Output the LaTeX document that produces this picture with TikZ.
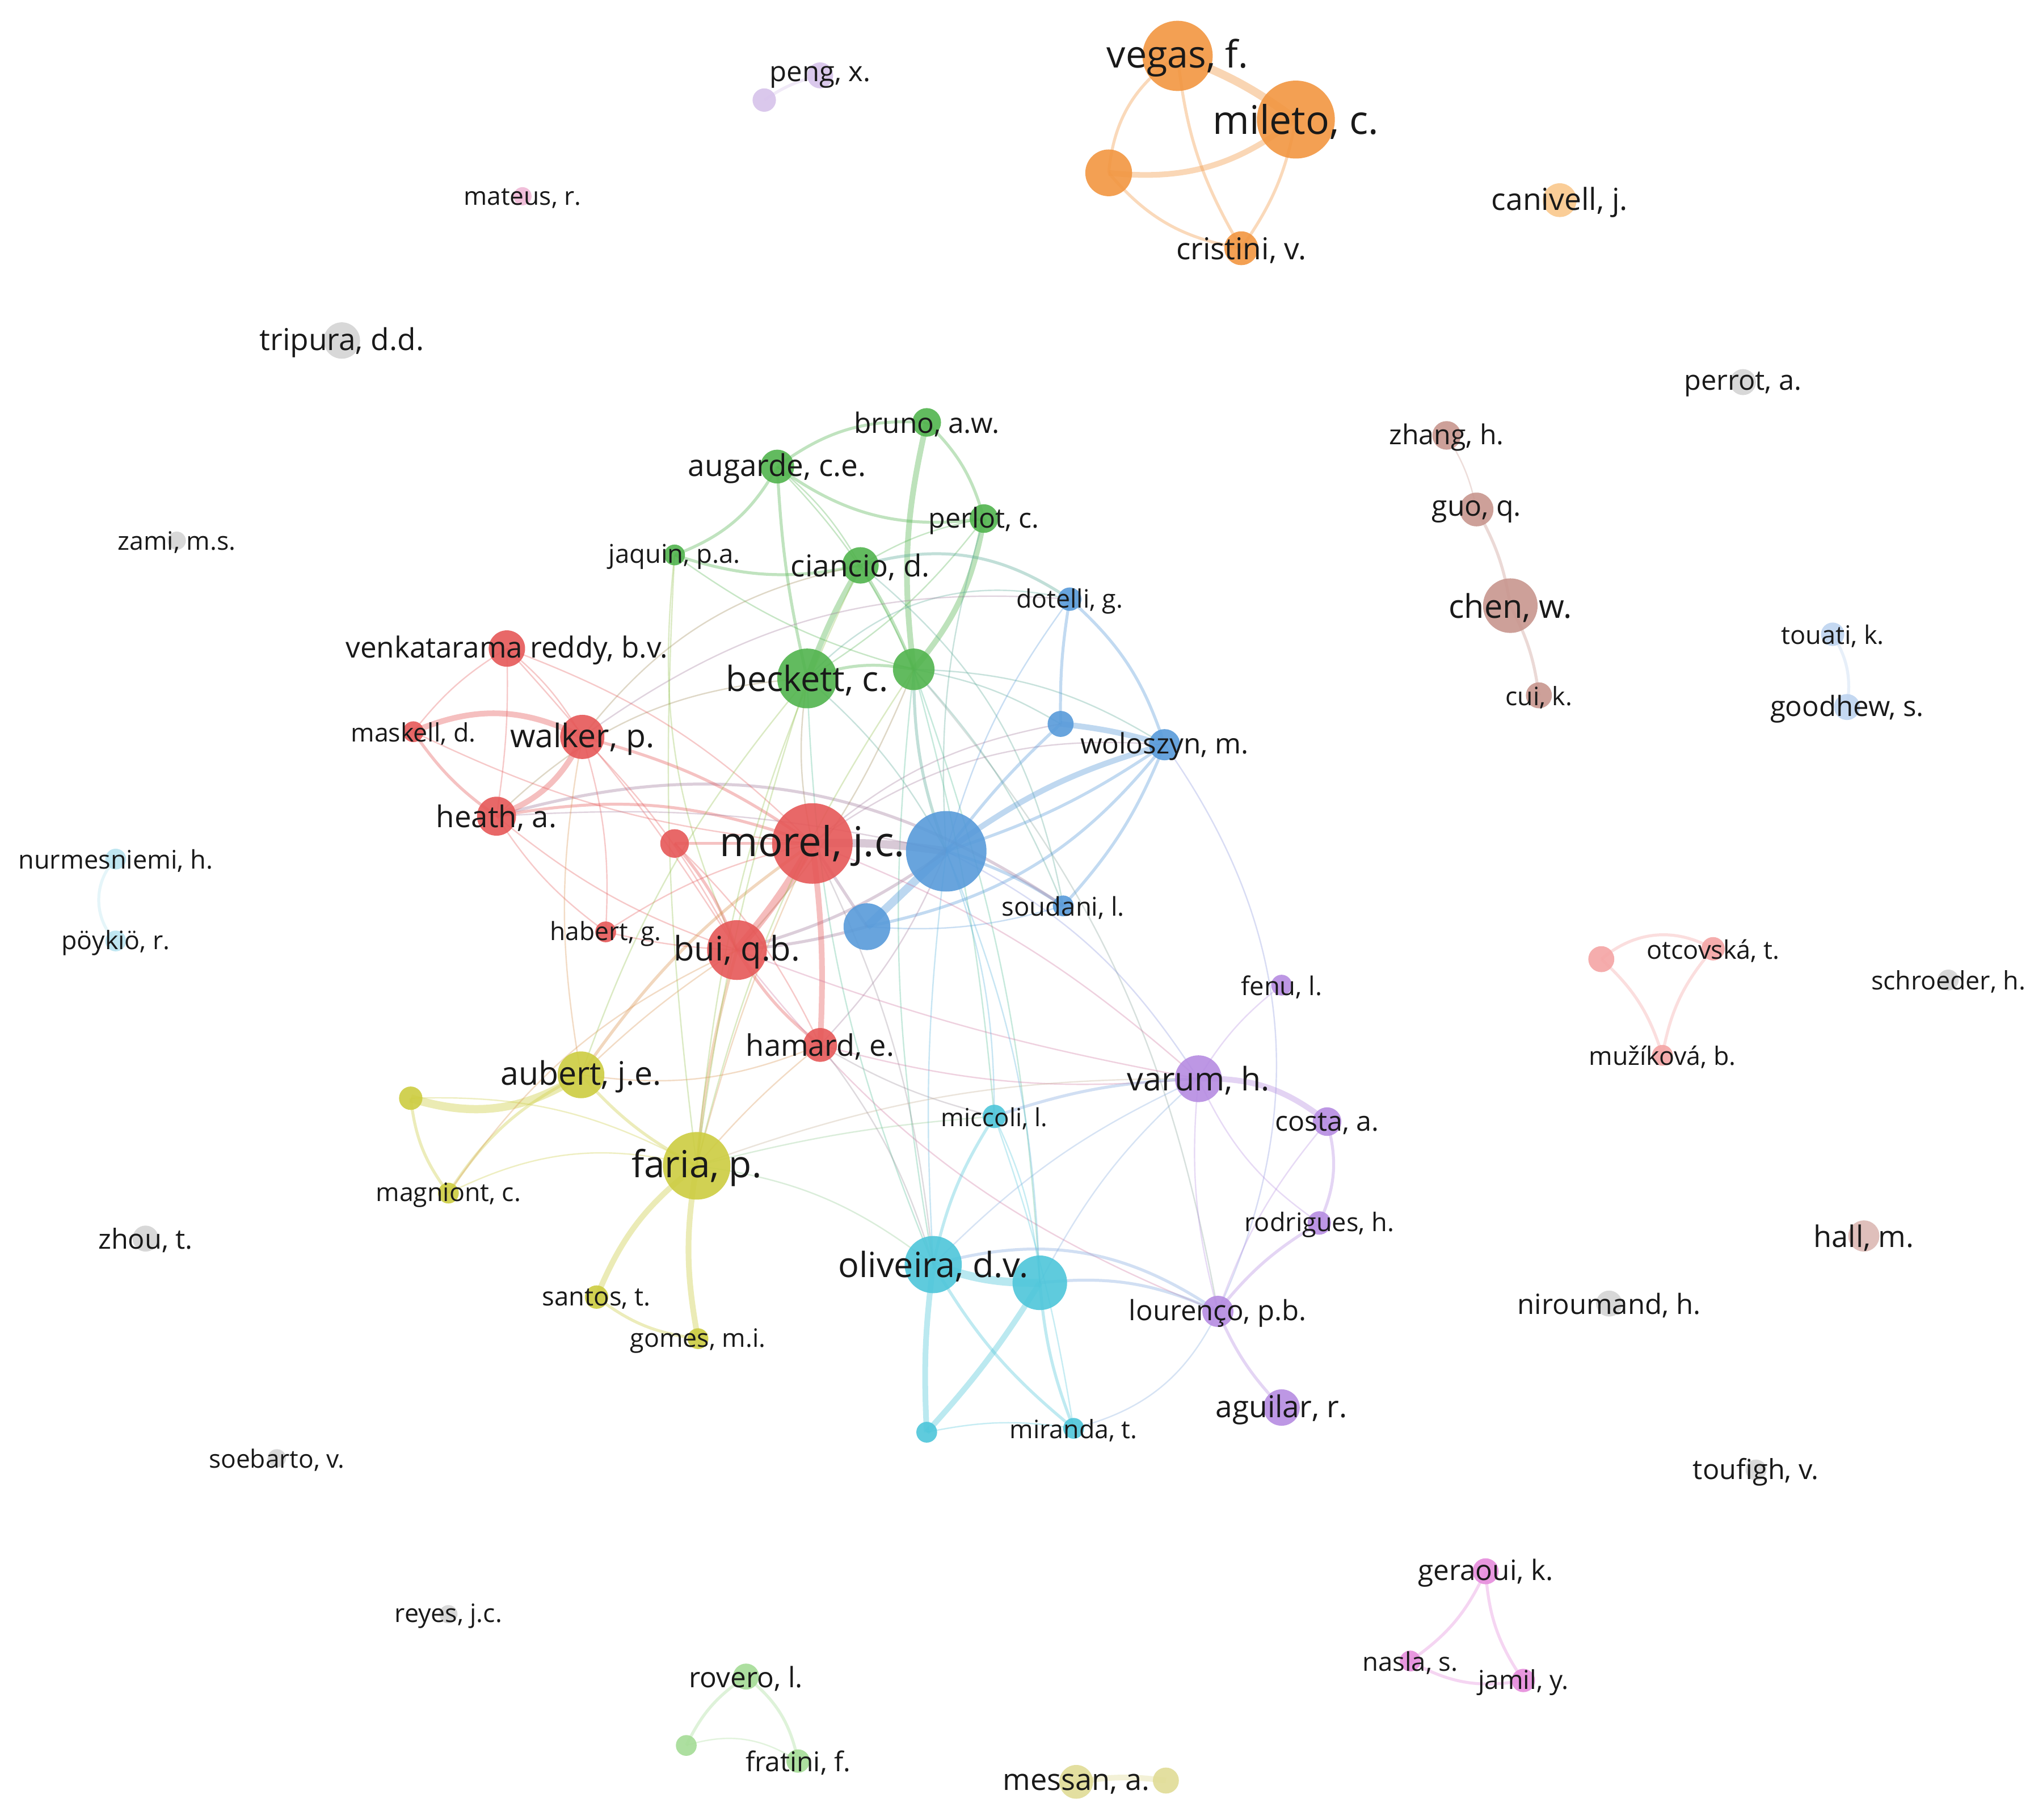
\documentclass[tikz,border=0pt]{standalone}
\usepackage{fontspec}
\setmainfont{Open Sans}
\definecolor{cR}{RGB}{230,88,88}
\definecolor{cG}{RGB}{82,180,78}
\definecolor{cB}{RGB}{88,155,218}
\definecolor{cY}{RGB}{205,205,65}
\definecolor{cP}{RGB}{182,140,226}
\definecolor{cC}{RGB}{78,198,218}
\definecolor{cO}{RGB}{242,150,65}
\definecolor{cOl}{RGB}{250,200,140}
\definecolor{cBr}{RGB}{200,150,142}
\definecolor{cGr}{RGB}{212,212,212}
\definecolor{cPl}{RGB}{215,195,235}
\definecolor{cPi}{RGB}{240,185,215}
\definecolor{cBl}{RGB}{190,212,240}
\definecolor{cCl}{RGB}{185,228,240}
\definecolor{cPk}{RGB}{245,165,165}
\definecolor{cHa}{RGB}{220,185,180}
\definecolor{cM}{RGB}{230,140,220}
\definecolor{cGl}{RGB}{165,220,150}
\definecolor{cYl}{RGB}{225,220,150}
\definecolor{txt}{RGB}{25,25,25}
\pgfdeclarelayer{bg}
\pgfdeclarelayer{edges}
\pgfdeclarelayer{labels}
\pgfsetlayers{bg,edges,main,labels}
\newcommand\lnk[4][]{\draw[#1] (#2.center) to[#4] (#3.center);}
\begin{document}
\begin{tikzpicture}[x=0.02cm,y=-0.02cm,
  nd/.style 2 args={circle, fill=#1, fill opacity=0.9, draw=none, inner sep=0pt, minimum size=#2*0.04cm},
  lab/.style={font=\fontsize{#1}{#1}\selectfont, text=txt, inner sep=0pt, yshift=-1.5*0.02cm},
  lk/.style={draw=#1, draw opacity=0.32, line width=0.6pt},
  w2/.style={line width=1.3pt, draw opacity=0.36},
  w3/.style={line width=2.5pt, draw opacity=0.38},
  w4/.style={line width=3.6pt, draw opacity=0.4}]
\useasboundingbox (0,0) rectangle (1568,1400);
\begin{pgfonlayer}{bg}
\fill[white] (0,0) rectangle (1568,1400);
\end{pgfonlayer}

% ---------- nodes ----------
\node[nd={cO}{27}] (vegas) at (906,43) {};
\node[nd={cO}{30}] (mileto) at (997,92) {};
\node[nd={cO}{18}] (orA) at (853,133) {};
\node[nd={cO}{13}] (cristini) at (955,191) {};
\node[nd={cOl}{13}] (canivell) at (1200,154) {};
\node[nd={cPl}{10}] (peng) at (631,58) {};
\node[nd={cPl}{9}] (pengB) at (588,77) {};
\node[nd={cPi}{7}] (mateus) at (402,151) {};
\node[nd={cGr}{14}] (tripura) at (263,262) {};
\node[nd={cGr}{7}] (zami) at (136,416) {};
\node[nd={cGr}{10}] (perrot) at (1341,294) {};
\node[nd={cBr}{11}] (zhang) at (1113,335) {};
\node[nd={cBr}{13}] (guo) at (1136,392) {};
\node[nd={cBr}{21}] (chen) at (1162,466) {};
\node[nd={cBr}{10}] (cui) at (1184,535) {};
\node[nd={cBl}{9}] (touati) at (1410,488) {};
\node[nd={cBl}{10}] (goodhew) at (1421,544) {};
\node[nd={cCl}{8}] (nurmes) at (89,661) {};
\node[nd={cCl}{8}] (poykio) at (89,724) {};
\node[nd={cG}{11}] (bruno) at (713,325) {};
\node[nd={cG}{13}] (augarde) at (598,359) {};
\node[nd={cG}{11}] (perlot) at (757,399) {};
\node[nd={cG}{8}] (jaquin) at (519,427) {};
\node[nd={cG}{14}] (ciancio) at (662,435) {};
\node[nd={cG}{23}] (beckett) at (621,522) {};
\node[nd={cG}{16}] (grA) at (703,515) {};
\node[nd={cB}{9}] (dotelli) at (823,461) {};
\node[nd={cB}{10}] (blA) at (816,557) {};
\node[nd={cB}{12}] (woloszyn) at (896,573) {};
\node[nd={cB}{31}] (blBig) at (728,655) {};
\node[nd={cB}{18}] (blC) at (667,713) {};
\node[nd={cB}{8}] (soudani) at (818,697) {};
\node[nd={cR}{14}] (venkat) at (390,499) {};
\node[nd={cR}{8}] (maskell) at (318,563) {};
\node[nd={cR}{17}] (walker) at (448,567) {};
\node[nd={cR}{15}] (heath) at (382,628) {};
\node[nd={cR}{11}] (rdA) at (519,649) {};
\node[nd={cR}{31}] (morel) at (625,649) {};
\node[nd={cR}{8}] (habert) at (466,717) {};
\node[nd={cR}{23}] (bui) at (567,731) {};
\node[nd={cR}{13}] (hamard) at (631,804) {};
\node[nd={cY}{9}] (ylA) at (316,845) {};
\node[nd={cY}{18}] (aubert) at (447,827) {};
\node[nd={cY}{8}] (magniont) at (345,918) {};
\node[nd={cY}{26}] (faria) at (536,897) {};
\node[nd={cY}{9}] (santos) at (459,998) {};
\node[nd={cY}{8}] (gomes) at (537,1030) {};
\node[nd={cC}{9}] (miccoli) at (765,859) {};
\node[nd={cC}{22}] (oliveira) at (718,973) {};
\node[nd={cC}{21}] (cyA) at (800,987) {};
\node[nd={cC}{8}] (cyB) at (713,1102) {};
\node[nd={cC}{8}] (miranda) at (826,1099) {};
\node[nd={cP}{8}] (fenu) at (986,758) {};
\node[nd={cP}{18}] (varum) at (922,830) {};
\node[nd={cP}{11}] (costa) at (1021,863) {};
\node[nd={cP}{9}] (rodrigues) at (1015,941) {};
\node[nd={cP}{12}] (lourenco) at (937,1009) {};
\node[nd={cP}{14}] (aguilar) at (986,1083) {};
\node[nd={cPk}{9}] (otcovska) at (1318,730) {};
\node[nd={cPk}{10}] (pkA) at (1232,738) {};
\node[nd={cPk}{8}] (muzikova) at (1279,812) {};
\node[nd={cGr}{8}] (schroeder) at (1499,754) {};
\node[nd={cHa}{12}] (hall) at (1434,951) {};
\node[nd={cGr}{10}] (niroumand) at (1238,1003) {};
\node[nd={cGr}{10}] (zhou) at (112,953) {};
\node[nd={cGr}{8}] (toufigh) at (1351,1131) {};
\node[nd={cGr}{7}] (soebarto) at (213,1122) {};
\node[nd={cGr}{7}] (reyes) at (345,1242) {};
\node[nd={cM}{10}] (geraoui) at (1143,1209) {};
\node[nd={cM}{8}] (nasla) at (1085,1278) {};
\node[nd={cM}{9}] (jamil) at (1172,1293) {};
\node[nd={cGl}{10}] (rovero) at (574,1290) {};
\node[nd={cGl}{8}] (grB) at (528,1343) {};
\node[nd={cGl}{9}] (fratini) at (614,1355) {};
\node[nd={cYl}{13}] (messan) at (828,1371) {};
\node[nd={cYl}{10}] (ylB) at (897,1370) {};

% ---------- edges ----------
\begin{pgfonlayer}{edges}
% orange
\lnk[lk=cO,w4]{vegas}{mileto}{bend left=8}
\lnk[lk=cO,w2]{vegas}{orA}{bend right=25}
\lnk[lk=cO,w2]{vegas}{cristini}{bend right=12}
\lnk[lk=cO,w3]{orA}{mileto}{bend right=22}
\lnk[lk=cO,w2]{cristini}{mileto}{bend right=12}
\lnk[lk=cO,w2]{orA}{cristini}{bend right=20}
% small clusters
\lnk[lk=cPl,w2]{pengB}{peng}{bend left=10}
\lnk[lk=cBr]{zhang}{guo}{bend left=10}
\lnk[lk=cBr,w2]{guo}{chen}{bend left=10}
\lnk[lk=cBr,w2]{chen}{cui}{bend left=10}
\lnk[lk=cBl,w2]{touati}{goodhew}{bend left=20}
\lnk[lk=cCl,w2]{nurmes}{poykio}{bend right=45}
\lnk[lk=cPk,w2]{pkA}{otcovska}{bend left=35}
\lnk[lk=cPk,w2]{pkA}{muzikova}{bend left=15}
\lnk[lk=cPk,w2]{otcovska}{muzikova}{bend right=15}
\lnk[lk=cM,w2]{geraoui}{nasla}{bend left=15}
\lnk[lk=cM,w2]{geraoui}{jamil}{bend right=15}
\lnk[lk=cM,w2]{nasla}{jamil}{bend right=20}
\lnk[lk=cGl,w2]{grB}{rovero}{bend left=15}
\lnk[lk=cGl,w2]{rovero}{fratini}{bend left=20}
\lnk[lk=cGl]{grB}{fratini}{bend left=25}
\lnk[lk=cYl,w3]{messan}{ylB}{bend left=8}
% green
\lnk[lk=cG,w2]{augarde}{bruno}{bend left=20}
\lnk[lk=cG,w2]{augarde}{jaquin}{bend left=20}
\lnk[lk=cG]{augarde}{ciancio}{bend left=10}
\lnk[lk=cG,w2]{augarde}{beckett}{bend right=5}
\lnk[lk=cG,w2]{augarde}{perlot}{bend right=22}
\lnk[lk=cG]{augarde}{grA}{bend left=10}
\lnk[lk=cG,w3]{bruno}{grA}{bend right=10}
\lnk[lk=cG,w2]{bruno}{perlot}{bend left=15}
\lnk[lk=cG,w3]{perlot}{grA}{bend left=15}
\lnk[lk=cG,w3]{ciancio}{beckett}{bend right=5}
\lnk[lk=cG,w2]{ciancio}{grA}{bend left=5}
\lnk[lk=cG,w2]{jaquin}{ciancio}{bend right=15}
\lnk[lk=cG]{jaquin}{grA}{bend right=10}
\lnk[lk=cG]{perlot}{beckett}{bend left=10}
\lnk[lk=cG]{perlot}{ciancio}{bend right=10}
\lnk[lk=cG,w2]{beckett}{grA}{bend left=15}
\lnk[lk=cG!50!cY]{jaquin}{faria}{bend right=5}
\lnk[lk=cG!50!cY]{jaquin}{bui}{bend right=15}
% green-blue
\lnk[lk=cG!50!cB,w2]{ciancio}{dotelli}{bend left=25}
\lnk[lk=cG!50!cB]{beckett}{dotelli}{bend left=30}
\lnk[lk=cG!50!cB]{grA}{woloszyn}{bend left=15}
\lnk[lk=cG!50!cB,w2]{grA}{blBig}{bend right=10}
\lnk[lk=cG!50!cB]{grA}{soudani}{bend left=10}
\lnk[lk=cG!50!cB]{grA}{blA}{bend left=10}
\lnk[lk=cG!50!cB]{beckett}{blBig}{bend left=10}
\lnk[lk=cG!50!cB]{perlot}{blBig}{bend right=10}
\lnk[lk=cG!50!cC]{grA}{oliveira}{bend right=8}
\lnk[lk=cG!50!cC]{grA}{cyA}{bend left=8}
\lnk[lk=cG!50!cC]{grA}{miccoli}{bend left=5}
\lnk[lk=cG!50!cC]{beckett}{oliveira}{bend right=10}
\lnk[lk=cG!50!cB]{ciancio}{soudani}{bend left=20}
\lnk[lk=cG!50!cP]{grA}{lourenco}{bend left=15}
\lnk[lk=cG!50!cR]{beckett}{morel}{bend right=10}
\lnk[lk=cG!50!cR]{beckett}{heath}{bend right=20}
\lnk[lk=cG!50!cR]{ciancio}{walker}{bend right=20}
\lnk[lk=cG!50!cR]{grA}{bui}{bend left=10}
% blue
\lnk[lk=cB,w2]{dotelli}{blA}{bend right=5}
\lnk[lk=cB,w2]{dotelli}{woloszyn}{bend left=15}
\lnk[lk=cB]{dotelli}{blBig}{bend right=10}
\lnk[lk=cB,w3]{blA}{woloszyn}{bend left=5}
\lnk[lk=cB,w3]{blBig}{woloszyn}{bend left=10}
\lnk[lk=cB,w2]{blBig}{woloszyn}{bend right=8}
\lnk[lk=cB,w2]{woloszyn}{soudani}{bend left=10}
\lnk[lk=cB,w2]{woloszyn}{blC}{bend left=20}
\lnk[lk=cB!50!cR]{woloszyn}{morel}{bend right=20}
\lnk[lk=cB,w2]{blA}{blBig}{bend right=5}
\lnk[lk=cB,w2]{blBig}{soudani}{bend left=8}
\lnk[lk=cB,w4]{blBig}{blC}{}
\lnk[lk=cB!50!cR,w4]{blBig}{morel}{bend right=5}
\lnk[lk=cB!50!cR,w2]{blC}{morel}{}
\lnk[lk=cB!50!cR,w2]{blBig}{bui}{bend left=10}
\lnk[lk=cB!50!cR,w2]{blC}{bui}{bend left=5}
\lnk[lk=cB]{soudani}{blC}{bend left=10}
\lnk[lk=cB!50!cP]{blBig}{varum}{bend left=15}
\lnk[lk=cB!50!cR]{blBig}{hamard}{bend left=10}
\lnk[lk=cB!50!cC]{blBig}{oliveira}{bend right=5}
\lnk[lk=cB!50!cR,w2]{heath}{soudani}{bend left=25}
\lnk[lk=cB!50!cR]{blA}{morel}{bend right=15}
\lnk[lk=cB!50!cP]{woloszyn}{lourenco}{bend left=30}
\lnk[lk=cB!50!cR]{dotelli}{walker}{bend right=20}
% red
\lnk[lk=cR]{venkat}{maskell}{bend right=10}
\lnk[lk=cR]{venkat}{walker}{bend left=10}
\lnk[lk=cR]{venkat}{heath}{bend left=5}
\lnk[lk=cR,w3]{maskell}{walker}{bend left=25}
\lnk[lk=cR,w2]{maskell}{heath}{bend right=10}
\lnk[lk=cR,w3]{walker}{heath}{bend left=22}
\lnk[lk=cR,w2]{walker}{morel}{bend left=10}
\lnk[lk=cR,w2]{heath}{morel}{bend left=15}
\lnk[lk=cR]{heath}{bui}{bend right=10}
\lnk[lk=cR]{walker}{bui}{bend left=8}
\lnk[lk=cR]{maskell}{morel}{bend right=10}
\lnk[lk=cR]{venkat}{morel}{bend left=12}
\lnk[lk=cR]{venkat}{bui}{bend left=5}
\lnk[lk=cR,w2]{rdA}{morel}{}
\lnk[lk=cR,w2]{rdA}{bui}{bend left=10}
\lnk[lk=cR]{rdA}{hamard}{bend left=10}
\lnk[lk=cR,w4]{morel}{bui}{bend left=5}
\lnk[lk=cR,w3]{morel}{hamard}{bend left=5}
\lnk[lk=cR,w2]{bui}{hamard}{bend right=10}
\lnk[lk=cR]{habert}{morel}{bend left=10}
\lnk[lk=cR]{habert}{bui}{bend right=5}
\lnk[lk=cR]{habert}{heath}{bend left=10}
\lnk[lk=cR]{habert}{walker}{bend right=10}
\lnk[lk=cR!50!cP]{hamard}{varum}{bend right=10}
\lnk[lk=cR!50!cP]{morel}{varum}{bend left=10}
\lnk[lk=cR!50!cP]{bui}{varum}{bend right=5}
\lnk[lk=cR!50!cC]{hamard}{miccoli}{bend right=8}
\lnk[lk=cR!50!cC]{morel}{oliveira}{bend left=10}
\lnk[lk=cR!50!cP]{bui}{lourenco}{bend right=15}
\lnk[lk=cR!50!cB]{heath}{blBig}{bend left=8}
% yellow
\lnk[lk=cY,w4]{ylA}{aubert}{bend right=25}
\lnk[lk=cY,w2]{ylA}{magniont}{bend right=15}
\lnk[lk=cY,w2]{aubert}{magniont}{bend right=15}
\lnk[lk=cY,w2]{aubert}{faria}{bend right=10}
\lnk[lk=cY,w3]{faria}{santos}{bend right=15}
\lnk[lk=cY,w3]{faria}{gomes}{bend right=10}
\lnk[lk=cY,w2]{santos}{gomes}{bend right=15}
\lnk[lk=cY]{faria}{magniont}{bend right=20}
\lnk[lk=cY]{ylA}{faria}{bend left=15}
\lnk[lk=cY!50!cR,w2]{aubert}{morel}{bend left=10}
\lnk[lk=cY!50!cR]{aubert}{bui}{bend left=5}
\lnk[lk=cY!50!cR]{aubert}{hamard}{bend right=15}
\lnk[lk=cY!50!cR]{aubert}{walker}{bend left=10}
\lnk[lk=cY!50!cG]{aubert}{beckett}{bend left=10}
\lnk[lk=cY!50!cR]{faria}{morel}{bend left=5}
\lnk[lk=cY!50!cR,w2]{faria}{bui}{bend left=5}
\lnk[lk=cY!50!cG]{faria}{beckett}{bend left=5}
\lnk[lk=cY!50!cG]{faria}{ciancio}{bend left=10}
\lnk[lk=cY!50!cG]{faria}{grA}{bend left=10}
\lnk[lk=cY!50!cR]{faria}{hamard}{bend left=5}
\lnk[lk=cY!50!cC]{faria}{oliveira}{bend left=15}
\lnk[lk=cY!50!cC]{faria}{miccoli}{bend left=5}
\lnk[lk=cY!50!cP]{faria}{varum}{bend left=10}
\lnk[lk=cY!50!cR]{magniont}{bui}{bend left=15}
% cyan
\lnk[lk=cC,w4]{oliveira}{cyA}{bend right=10}
\lnk[lk=cC,w3]{oliveira}{cyB}{bend right=5}
\lnk[lk=cC,w2]{oliveira}{miranda}{bend right=10}
\lnk[lk=cC,w3]{cyA}{cyB}{bend left=5}
\lnk[lk=cC,w2]{cyA}{miranda}{bend right=8}
\lnk[lk=cC]{cyB}{miranda}{bend left=10}
\lnk[lk=cC,w2]{miccoli}{oliveira}{bend right=10}
\lnk[lk=cC]{miccoli}{cyA}{bend left=10}
\lnk[lk=cC]{miccoli}{miranda}{bend left=5}
\lnk[lk=cC!50!cP,w2]{oliveira}{lourenco}{bend left=25}
\lnk[lk=cC!50!cP,w2]{cyA}{lourenco}{bend left=15}
\lnk[lk=cC!50!cP]{oliveira}{varum}{bend left=10}
\lnk[lk=cC!50!cP]{miranda}{lourenco}{bend right=25}
\lnk[lk=cC!50!cP]{cyA}{varum}{bend left=10}
\lnk[lk=cC!50!cR]{oliveira}{hamard}{bend right=10}
\lnk[lk=cC!50!cB]{cyA}{blBig}{bend right=10}
\lnk[lk=cC!50!cB]{miccoli}{blBig}{bend right=10}
% purple
\lnk[lk=cP]{fenu}{varum}{bend right=10}
\lnk[lk=cP,w3]{varum}{costa}{bend left=20}
\lnk[lk=cP]{varum}{rodrigues}{bend right=15}
\lnk[lk=cP]{varum}{lourenco}{bend right=10}
\lnk[lk=cP,w2]{costa}{rodrigues}{bend left=20}
\lnk[lk=cP]{costa}{lourenco}{bend right=10}
\lnk[lk=cP,w2]{rodrigues}{lourenco}{bend right=10}
\lnk[lk=cP,w2]{lourenco}{aguilar}{bend right=10}
\lnk[lk=cP!50!cC,w2]{varum}{miccoli}{bend right=8}
\end{pgfonlayer}

% ---------- labels ----------
\begin{pgfonlayer}{labels}
\node[lab=16.5] at (vegas) {vegas, f.};
\node[lab=17.3] at (mileto) {mileto, c.};
\node[lab=13.2] at (cristini) {cristini, v.};
\node[lab=13.3] at (canivell) {canivell, j.};
\node[lab=12.2] at (peng) {peng, x.};
\node[lab=11] at (mateus) {mateus, r.};
\node[lab=13.2] at (tripura) {tripura, d.d.};
\node[lab=11.1] at (zami) {zami, m.s.};
\node[lab=12.1] at (perrot) {perrot, a.};
\node[lab=12] at (zhang) {zhang, h.};
\node[lab=12.4] at (guo) {guo, q.};
\node[lab=14.3] at (chen) {chen, w.};
\node[lab=11.1] at (cui) {cui, k.};
\node[lab=11.2] at (touati) {touati, k.};
\node[lab=12.2] at (goodhew) {goodhew, s.};
\node[lab=11.2] at (nurmes) {nurmesniemi, h.};
\node[lab=11.1] at (poykio) {pöykiö, r.};
\node[lab=12.3] at (bruno) {bruno, a.w.};
\node[lab=13.2] at (augarde) {augarde, c.e.};
\node[lab=12] at (perlot) {perlot, c.};
\node[lab=11.3] at (jaquin) {jaquin, p.a.};
\node[lab=13.2] at (ciancio) {ciancio, d.};
\node[lab=15.2] at (beckett) {beckett, c.};
\node[lab=11.1] at (dotelli) {dotelli, g.};
\node[lab=12.3] at (woloszyn) {woloszyn, m.};
\node[lab=11.3] at (soudani) {soudani, l.};
\node[lab=12.7] at (venkat) {venkatarama reddy, b.v.};
\node[lab=11.1] at (maskell) {maskell, d.};
\node[lab=14.2] at (walker) {walker, p.};
\node[lab=13.1] at (heath) {heath, a.};
\node[lab=18] at (morel) {morel, j.c.};
\node[lab=11] at (habert) {habert, g.};
\node[lab=14.8] at (bui) {bui, q.b.};
\node[lab=13] at (hamard) {hamard, e.};
\node[lab=14.2] at (aubert) {aubert, j.e.};
\node[lab=11.1] at (magniont) {magniont, c.};
\node[lab=16.3] at (faria) {faria, p.};
\node[lab=11.3] at (santos) {santos, t.};
\node[lab=11.1] at (gomes) {gomes, m.i.};
\node[lab=10.9] at (miccoli) {miccoli, l.};
\node[lab=15.2] at (oliveira) {oliveira, d.v.};
\node[lab=11.1] at (miranda) {miranda, t.};
\node[lab=11.3] at (fenu) {fenu, l.};
\node[lab=14.2] at (varum) {varum, h.};
\node[lab=12] at (costa) {costa, a.};
\node[lab=11.2] at (rodrigues) {rodrigues, h.};
\node[lab=12.2] at (lourenco) {lourenço, p.b.};
\node[lab=13.2] at (aguilar) {aguilar, r.};
\node[lab=11.2] at (otcovska) {otcovská, t.};
\node[lab=11.1] at (muzikova) {mužíková, b.};
\node[lab=11.1] at (schroeder) {schroeder, h.};
\node[lab=13] at (hall) {hall, m.};
\node[lab=12.2] at (niroumand) {niroumand, h.};
\node[lab=12.1] at (zhou) {zhou, t.};
\node[lab=12.1] at (toufigh) {toufigh, v.};
\node[lab=11] at (soebarto) {soebarto, v.};
\node[lab=11.1] at (reyes) {reyes, j.c.};
\node[lab=12.3] at (geraoui) {geraoui, k.};
\node[lab=11.3] at (nasla) {nasla, s.};
\node[lab=11.4] at (jamil) {jamil, y.};
\node[lab=12.3] at (rovero) {rovero, l.};
\node[lab=11.9] at (fratini) {fratini, f.};
\node[lab=13] at (messan) {messan, a.};
\end{pgfonlayer}
\end{tikzpicture}
\end{document}
